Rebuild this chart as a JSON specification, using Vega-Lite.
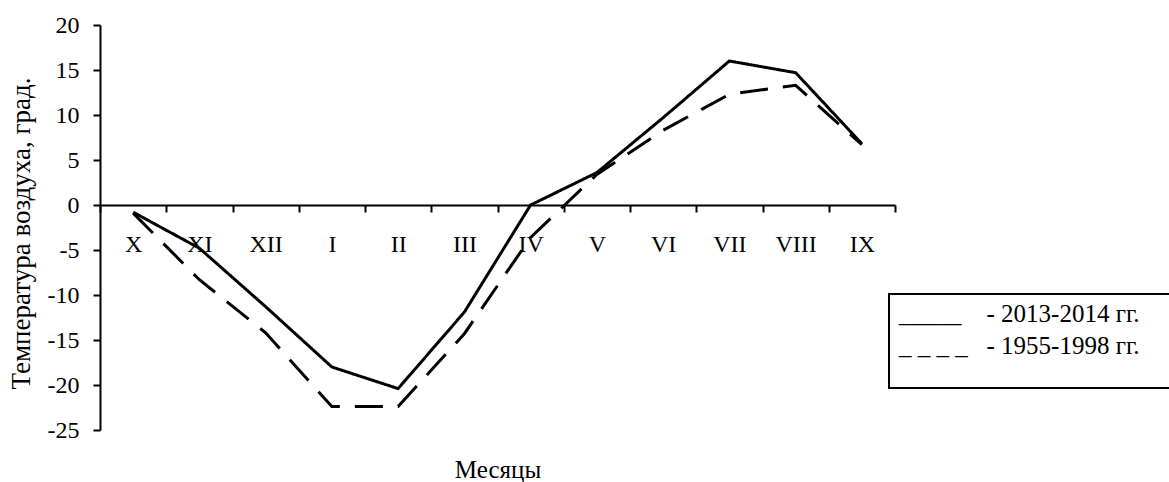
{
  "$schema": "https://vega.github.io/schema/vega-lite/v6.json",
  "width": 795,
  "height": 405,
  "autosize": {"type": "none"},
  "padding": {"left": 100, "top": 25, "right": 274, "bottom": 52},
  "background": "white",
  "config": {
    "view": {"stroke": null},
    "font": "Liberation Serif",
    "legend": {"strokeWidth": 2}
  },
  "data": {
    "values": [
      {"month": "X", "series": "2013-2014", "t": -0.8},
      {"month": "XI", "series": "2013-2014", "t": -4.8},
      {"month": "XII", "series": "2013-2014", "t": -11.3},
      {"month": "I", "series": "2013-2014", "t": -18.0},
      {"month": "II", "series": "2013-2014", "t": -20.4},
      {"month": "III", "series": "2013-2014", "t": -11.9},
      {"month": "IV", "series": "2013-2014", "t": 0.0},
      {"month": "V", "series": "2013-2014", "t": 3.6},
      {"month": "VI", "series": "2013-2014", "t": 9.7},
      {"month": "VII", "series": "2013-2014", "t": 16.0},
      {"month": "VIII", "series": "2013-2014", "t": 14.7},
      {"month": "IX", "series": "2013-2014", "t": 6.8},
      {"month": "X", "series": "1955-1998", "t": -0.9},
      {"month": "XI", "series": "1955-1998", "t": -8.3},
      {"month": "XII", "series": "1955-1998", "t": -14.2},
      {"month": "I", "series": "1955-1998", "t": -22.4},
      {"month": "II", "series": "1955-1998", "t": -22.4},
      {"month": "III", "series": "1955-1998", "t": -14.3},
      {"month": "IV", "series": "1955-1998", "t": -3.6},
      {"month": "V", "series": "1955-1998", "t": 3.4},
      {"month": "VI", "series": "1955-1998", "t": 8.3},
      {"month": "VII", "series": "1955-1998", "t": 12.3},
      {"month": "VIII", "series": "1955-1998", "t": 13.3},
      {"month": "IX", "series": "1955-1998", "t": 6.7}
    ]
  },
  "mark": {"type": "line", "color": "black", "strokeWidth": 3},
  "encoding": {
    "x": {
      "field": "month",
      "type": "ordinal",
      "scale": {"type": "band", "domain": ["X", "XI", "XII", "I", "II", "III", "IV", "V", "VI", "VII", "VIII", "IX"], "paddingInner": 0, "paddingOuter": 0},
      "axis": {
        "title": "Месяцы",
        "titleFont": "Liberation Serif",
        "titleFontSize": 25,
        "titleFontWeight": "normal",
        "titleColor": "black",
        "titleBaseline": "alphabetic",
        "titleY": 272,
        "offset": -225,
        "labelAngle": 0,
        "labelFont": "Liberation Serif",
        "labelFontSize": 24,
        "labelColor": "black",
        "labelPadding": 20,
        "tickBand": "extent",
        "tickSize": 7,
        "tickWidth": 2,
        "tickColor": "black",
        "domainColor": "black",
        "domainWidth": 2,
        "grid": false
      }
    },
    "y": {
      "field": "t",
      "type": "quantitative",
      "scale": {"domain": [-25, 20], "nice": false, "zero": false},
      "axis": {
        "title": "Температура воздуха, град.",
        "titleFont": "Liberation Serif",
        "titleFontSize": 27,
        "titleFontWeight": "normal",
        "titleColor": "black",
        "titlePadding": 12,
        "titleY": 208,
        "values": [-25, -20, -15, -10, -5, 0, 5, 10, 15, 20],
        "labelExpr": "datum.value < 0 ? '-' + abs(datum.value) : '' + datum.value",
        "labelFont": "Liberation Serif",
        "labelFontSize": 24,
        "labelColor": "black",
        "labelPadding": 14,
        "tickSize": 7,
        "tickWidth": 2,
        "tickColor": "black",
        "domainColor": "black",
        "domainWidth": 2,
        "grid": false
      }
    },
    "strokeDash": {
      "field": "series",
      "type": "nominal",
      "scale": {"domain": ["2013-2014", "1955-1998"], "range": [[1, 0], [28, 15]]},
      "legend": {
        "orient": "none",
        "legendX": 789,
        "legendY": 269,
        "direction": "vertical",
        "strokeColor": "black",
        "fillColor": "white",
        "padding": 7,
        "symbolSize": 0,
        "symbolOpacity": 0,
        "symbolStrokeWidth": 0,
        "labelOffset": -22,
        "labelFont": "Liberation Serif",
        "labelFontSize": 25,
        "labelColor": "black",
        "labelLimit": 0,
        "rowPadding": 6,
        "labelExpr": "datum.label == '2013-2014' ? '_____\u00a0\u00a0\u00a0\u00a0- 2013-2014 гг.\u00a0\u00a0\u00a0\u00a0\u200b' : '_ _ _ _\u00a0\u00a0\u00a0- 1955-1998 гг.\u00a0\u00a0\u00a0\u00a0\u200b'",
        "title": "\u00a0",
        "titleOrient": "bottom",
        "titleFontSize": 18,
        "titlePadding": 4
      }
    }
  }
}
